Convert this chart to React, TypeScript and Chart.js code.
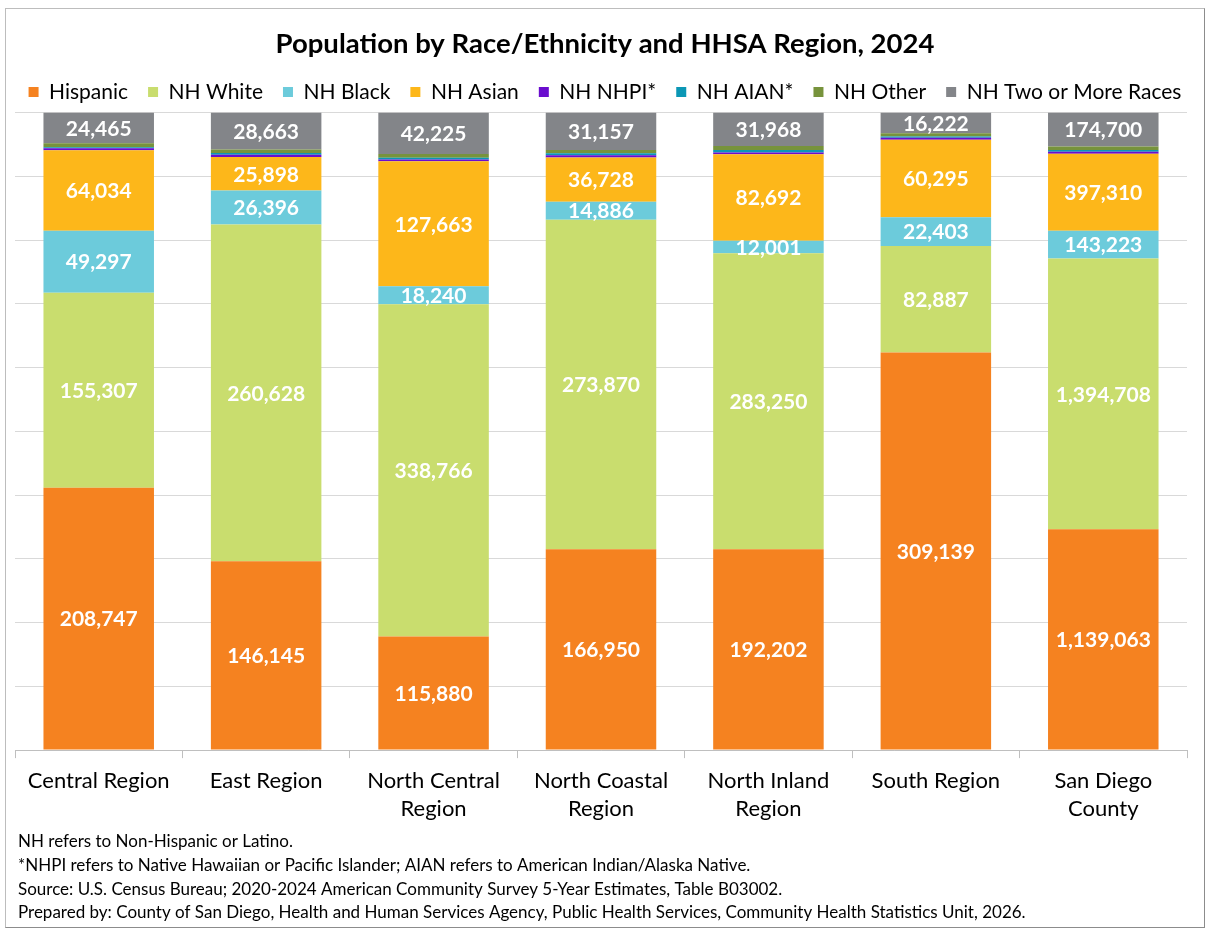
import React, { useEffect, useRef } from "react";
import { Chart, registerables } from "chart.js";

Chart.register(...registerables);

const categories: string[][] = [
  ["Central Region"],
  ["East Region"],
  ["North Central", "Region"],
  ["North Coastal", "Region"],
  ["North Inland", "Region"],
  ["South Region"],
  ["San Diego", "County"],
];

const hispanic = [208747, 146145, 115880, 166950, 192202, 309139, 1139063];
const nhWhite = [155307, 260628, 338766, 273870, 283250, 82887, 1394708];
const nhBlack = [49297, 26396, 18240, 14886, 12001, 22403, 143223];
const nhAsian = [64034, 25898, 127663, 36728, 82692, 60295, 397310];
const nhNhpi = [1600, 1800, 1700, 1900, 1600, 1500, 10100];
const nhAian = [800, 1300, 1700, 1600, 2600, 900, 8900];
const nhOther = [3200, 2700, 4000, 2800, 3800, 2500, 19000];
const nhTwoPlus = [24465, 28663, 42225, 31157, 31968, 16222, 174700];

const seriesNames = [
  "Hispanic",
  "NH White",
  "NH Black",
  "NH Asian",
  "NH NHPI*",
  "NH AIAN*",
  "NH Other",
  "NH Two or More Races",
];
const seriesValues = [hispanic, nhWhite, nhBlack, nhAsian, nhNhpi, nhAian, nhOther, nhTwoPlus];
const seriesColors = [
  "#F58220",
  "#C9DD6E",
  "#6CCBDB",
  "#FDB71A",
  "#6A0DCE",
  "#0B97B5",
  "#77933C",
  "#838589",
];
const labeledSeries = [true, true, true, true, false, false, false, true];

const titleText = "Population by Race/Ethnicity and HHSA Region, 2024";
const footnotes = [
  "NH refers to Non-Hispanic or Latino.",
  "*NHPI refers to Native Hawaiian or Pacific Islander; AIAN refers to American Indian/Alaska Native.",
  "Source: U.S. Census Bureau; 2020-2024 American Community Survey 5-Year Estimates, Table B03002.",
  "Prepared by: County of San Diego, Health and Human Services Agency, Public Health Services, Community Health Statistics Unit, 2026.",
];

const FONT = "Lato, 'Open Sans', sans-serif";

export default function App() {
  const canvasRef = useRef<HTMLCanvasElement | null>(null);

  useEffect(() => {
    const canvas = canvasRef.current;
    if (!canvas) return;

    const totals = categories.map((_, i) =>
      seriesValues.reduce((s, arr) => s + arr[i], 0)
    );

    const datasets = seriesNames.map((name, k) => ({
      label: name,
      data: seriesValues[k].map((v, i) => (v / totals[i]) * 100),
      backgroundColor: seriesColors[k],
      borderWidth: 0,
      barPercentage: 0.66,
      categoryPercentage: 1,
    }));

    const labelPlugin = {
      id: "segLabels",
      afterDatasetsDraw(chart: any) {
        const ctx = chart.ctx;
        ctx.save();
        ctx.font = `bold 21px ${FONT}`;
        ctx.fillStyle = "#ffffff";
        ctx.textAlign = "center";
        ctx.textBaseline = "middle";
        chart.data.datasets.forEach((ds: any, k: number) => {
          if (!labeledSeries[k]) return;
          const meta = chart.getDatasetMeta(k);
          meta.data.forEach((el: any, i: number) => {
            const { x, y, base } = el.getProps(["x", "y", "base"], true);
            ctx.fillText(seriesValues[k][i].toLocaleString("en-US"), x, (y + base) / 2 + 1);
          });
        });
        ctx.restore();
      },
    };

    const footPlugin = {
      id: "footnotes",
      afterDraw(chart: any) {
        const ctx = chart.ctx;
        ctx.save();
        ctx.font = `17px ${FONT}`;
        ctx.fillStyle = "#000000";
        ctx.textAlign = "left";
        ctx.textBaseline = "middle";
        const ys = [833, 857, 881, 904];
        footnotes.forEach((t, i) => ctx.fillText(t, 12, ys[i]));
        ctx.restore();
      },
    };

    const chart = new Chart(canvas, {
      type: "bar",
      data: { labels: categories, datasets },
      options: {
        animation: false,
        responsive: false,
        maintainAspectRatio: false,
        layout: { padding: { left: 0, right: 0, top: 0, bottom: 95 } },
        plugins: {
          title: {
            display: true,
            text: titleText,
            color: "#000000",
            font: { family: FONT, size: 27.5, weight: "bold", lineHeight: 1.0 },
            padding: { top: 21.5, bottom: 3.5 },
          },
          legend: {
            display: true,
            position: "top",
            labels: {
              color: "#000000",
              font: { family: FONT, size: 21 },
              boxWidth: 10,
              boxHeight: 10,
              padding: 20,
            },
          },
          tooltip: { enabled: false },
        },
        scales: {
          x: {
            stacked: true,
            grid: {
              display: true,
              drawOnChartArea: false,
              offset: true,
              tickLength: 8,
              color: "#bfbfbf",
            },
            border: { display: true, color: "#bfbfbf" },
            ticks: {
              color: "#000000",
              font: { family: FONT, size: 22, lineHeight: 1.27 },
              maxRotation: 0,
              autoSkip: false,
              padding: 9,
            },
          },
          y: {
            stacked: true,
            min: 0,
            max: 100,
            ticks: { display: false, stepSize: 10 },
            grid: { color: "#d9d9d9", drawTicks: false },
            border: { display: false },
            afterFit: (s: any) => {
              s.width = 9;
            },
          },
          yRight: {
            type: "linear",
            position: "right",
            display: true,
            min: 0,
            max: 100,
            ticks: { display: false },
            grid: { display: false, drawTicks: false },
            border: { display: false },
            afterFit: (s: any) => {
              s.width = 17;
            },
          },
        },
      },
      plugins: [labelPlugin, footPlugin],
    });

    return () => chart.destroy();
  }, []);

  return (
    <div
      style={{
        position: "absolute",
        left: 5,
        top: 8,
        width: 1200,
        height: 920,
        boxSizing: "border-box",
        border: "1px solid #bdbdbd",
        borderRightColor: "#8c8c8c",
        borderBottomColor: "#8c8c8c",
        background: "#ffffff",
      }}
    >
      <canvas ref={canvasRef} width={1198} height={918} style={{ display: "block" }} />
    </div>
  );
}
